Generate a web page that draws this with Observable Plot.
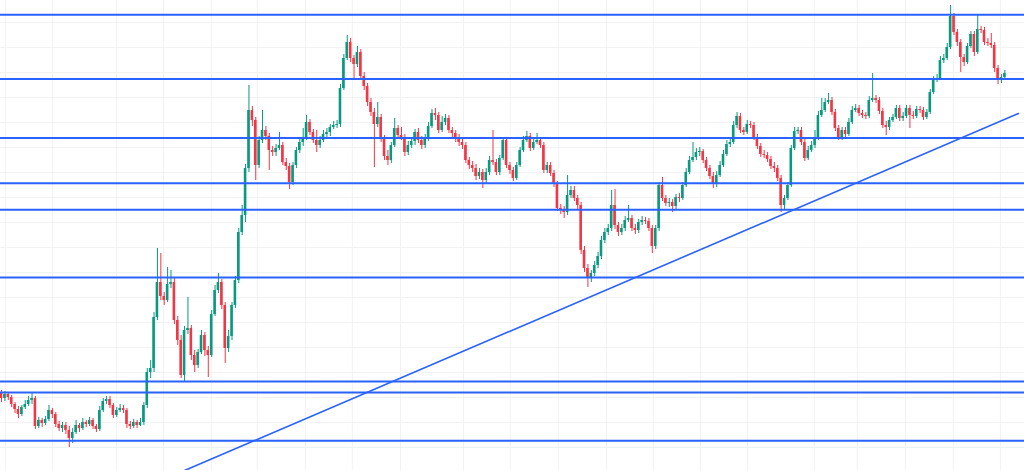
<!DOCTYPE html>
<html>
<head>
<meta charset="utf-8">
<script src="https://cdn.jsdelivr.net/npm/d3@7"></script>
<script src="https://cdn.jsdelivr.net/npm/@observablehq/plot@0.6"></script>
<style>
  html, body { margin: 0; padding: 0; background: #ffffff; }
  #chart svg { display: block; }
</style>
</head>
<body>
<div id="chart"></div>
<script>
// Candles: 12h bars, index = bar number. Prices in chart units.
const firstOpen = 54;
const close = [49,53,50,43,38,33,40,43,47,49,21,27,24,28,37,33,23,19,22,17,9,15,22,19,25,23,27,21,18,37,46,48,42,32,37,39,37,23,21,25,22,25,42,75,79,130,165,151,147,163,165,127,107,72,117,119,92,82,95,112,97,92,133,157,165,142,99,111,142,167,215,232,279,337,327,282,307,317,311,297,295,299,302,285,281,265,282,297,305,309,325,315,307,302,307,313,315,320,322,323,359,389,405,389,383,395,371,361,345,335,323,330,309,291,287,302,319,312,310,295,302,306,315,307,302,309,321,334,332,317,325,329,317,314,309,305,302,287,282,279,271,275,267,275,287,285,275,289,307,282,277,269,282,297,307,311,299,305,307,302,277,282,274,263,239,237,235,252,257,249,242,197,179,169,174,182,191,207,215,219,242,222,215,219,227,229,219,217,225,227,226,219,201,219,262,249,244,245,241,250,249,262,275,287,290,295,296,287,279,271,263,272,282,293,303,305,322,331,317,315,323,322,310,301,293,292,288,281,279,269,242,249,262,299,316,317,305,289,297,302,309,332,337,345,347,335,319,310,317,313,325,337,339,334,332,331,347,349,347,336,322,320,327,330,339,329,331,339,332,331,338,337,330,335,355,367,369,387,389,400,431,415,405,390,385,401,413,395,418,417,405,404,402,379,367,370,374];
const high = [57,56,55,52,45,41,42,47,51,54,51,30,29,31,42,39,35,26,25,25,21,19,27,24,29,27,30,29,23,41,49,51,51,44,40,43,42,39,26,28,27,29,45,79,87,135,199,194,155,180,177,169,131,112,121,150,122,97,98,117,115,101,137,162,174,168,145,117,145,171,219,242,283,362,341,330,311,337,321,314,301,303,315,305,289,284,285,300,309,319,332,328,318,317,311,317,319,323,326,327,363,393,412,409,392,401,398,375,364,349,339,345,333,312,297,305,329,322,320,313,306,309,318,319,311,313,325,338,339,335,331,333,332,320,317,313,308,305,290,286,283,279,278,279,291,317,288,292,310,310,285,280,285,300,311,316,314,308,314,310,305,285,285,277,266,243,241,272,261,261,252,245,201,183,177,186,195,211,219,223,257,258,225,223,231,242,232,223,228,231,230,229,222,222,265,270,252,249,248,253,254,265,279,291,305,299,300,298,290,282,275,276,286,297,307,309,326,335,334,320,327,326,325,313,304,297,295,291,285,282,272,252,265,302,320,320,320,308,301,306,317,336,349,349,354,350,338,322,320,320,329,341,343,342,337,335,351,374,352,350,339,326,330,333,342,342,335,342,342,336,341,341,340,338,358,371,373,391,393,404,442,434,418,408,393,404,416,416,433,421,420,409,414,405,382,373,377];
const low = [45,46,47,40,34,29,31,38,41,43,18,19,20,22,26,29,20,16,15,13,0,4,13,15,17,20,21,18,15,16,35,43,39,29,30,35,34,19,18,19,19,21,22,39,69,75,127,147,142,145,159,123,102,69,65,113,87,75,79,93,91,70,90,131,154,138,84,95,107,139,164,212,225,275,321,267,279,304,307,277,291,291,297,282,277,258,262,279,294,301,307,312,304,295,299,305,310,311,318,319,320,357,387,385,367,380,367,357,341,331,280,320,305,287,282,284,300,309,307,291,292,299,302,304,298,299,306,319,327,314,315,322,314,310,305,301,298,284,278,275,267,268,259,264,272,282,272,272,287,279,273,266,267,280,295,305,296,297,303,299,274,274,271,260,236,233,229,232,249,246,238,193,175,160,165,171,179,188,204,212,216,218,211,212,216,225,216,213,214,222,223,216,194,198,216,246,241,240,235,238,245,247,260,273,285,287,291,284,276,268,259,260,270,280,291,300,303,319,314,312,313,319,307,298,290,289,285,278,275,266,235,238,247,260,297,313,302,286,287,295,299,307,330,335,343,332,316,307,307,310,311,323,335,331,329,328,329,345,344,333,319,312,317,325,328,326,326,329,319,328,329,334,327,328,333,353,365,367,384,387,398,412,401,375,381,383,399,391,393,414,402,401,399,375,363,364,368];

// Horizontal support / resistance levels and the rising trend line
const levels = [432.8, 368.5, 309.5, 264.3, 237.8, 170, 66, 55, 6.7];
const trendline = [{bar: 54, price: -23}, {bar: 300, price: 334}];

// Grid positions (time ticks in bar units, price ticks)
const timeTicks = [1.2, 15, 33.9, 47.8, 61.9, 75.5, 89.7, 103.5, 117.7, 136.3, 150.1, 164.3, 178.5, 192.3, 206.2, 220.1, 239.8, 252.5, 266.7, 280.8, 294.7];
const priceTicks = [0, 25, 50, 75, 100, 125, 150, 175, 200, 225, 250, 275, 300, 325, 350, 375, 400, 425];

const UP = "#089981", DOWN = "#f23645";
const bars = close.map((c, i) => {
  const o = i === 0 ? firstOpen : close[i - 1];
  return {bar: i, open: o, close: c, high: high[i], low: low[i], up: c >= o};
});

const chart = Plot.plot({
  width: 1024,
  height: 470,
  margin: 0,
  style: {background: "#ffffff"},
  x: {type: "linear", domain: [-0.3, 301.8], axis: null},
  y: {domain: [-23, 447], axis: null},
  marks: [
    Plot.ruleX(timeTicks, {stroke: "#f2f2f2", strokeWidth: 1}),
    Plot.ruleY(priceTicks, {stroke: "#f2f2f2", strokeWidth: 1}),
    Plot.ruleX(bars, {x: "bar", y1: "low", y2: "high", stroke: d => d.up ? UP : DOWN, strokeWidth: 1}),
    Plot.rect(bars, {
      x1: d => d.bar - 0.38, x2: d => d.bar + 0.38,
      y1: "open", y2: "close",
      fill: d => d.up ? UP : DOWN
    }),
    Plot.ruleY(levels, {stroke: "#2962ff", strokeWidth: 2}),
    Plot.line(trendline, {x: "bar", y: "price", stroke: "#2962ff", strokeWidth: 1.6})
  ]
});
document.getElementById("chart").appendChild(chart);
</script>
</body>
</html>
